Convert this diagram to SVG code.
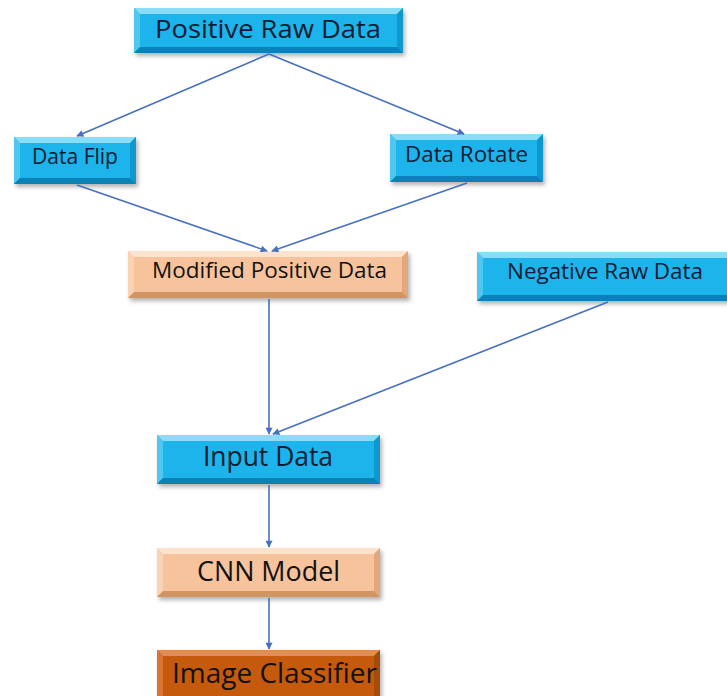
<svg xmlns="http://www.w3.org/2000/svg" width="727" height="696" viewBox="0 0 727 696">
<style>
.blue .m{fill:#1DB4EA}.blue .t{fill:#8ADDF7}.blue .l{fill:#4FC7EF}.blue .r{fill:#0F98CE}.blue .b{fill:#0A82B4}
.peach .m{fill:#F7C39C}.peach .t{fill:#FCE3CE}.peach .l{fill:#FAD3B5}.peach .r{fill:#E2A77C}.peach .b{fill:#D19564}
.dark .m{fill:#C55A11}.dark .t{fill:#E58C4E}.dark .l{fill:#D87530}.dark .r{fill:#A64B0C}.dark .b{fill:#8F400A}
.box{filter:url(#sh)}
text{font-family:"Open Sans","Liberation Sans",sans-serif;text-anchor:start}
.blue text{fill:#0E1B33}.peach text,.dark text{fill:#111}
.con line{stroke:#4770C0;stroke-width:1.6;fill:none;marker-end:url(#ah)}
</style>
<defs>
<filter id="sh" x="-10%" y="-20%" width="130%" height="160%"><feDropShadow dx="2" dy="3" stdDeviation="2" flood-color="#000" flood-opacity="0.3"/></filter>
<marker id="ah" viewBox="0 0 10 10" refX="9" refY="5" markerWidth="9" markerHeight="7" markerUnits="userSpaceOnUse" orient="auto"><path d="M0,0 L10,5 L0,10 z" fill="#4770C0"/></marker>
</defs>
<rect width="727" height="696" fill="#fff"/>

<g id="positive-raw" class="blue">
<g class="box"><rect class="m" x="134" y="8" width="269" height="45"/></g>
<polygon class="t" points="134,8 403,8 397,14 140,14"/>
<polygon class="l" points="134,8 140,14 140,47 134,53"/>
<polygon class="r" points="403,8 403,53 397,47 397,14"/>
<polygon class="b" points="134,53 140,47 397,47 403,53"/>
<text x="155" y="38" font-size="26" textLength="226" lengthAdjust="spacingAndGlyphs">Positive Raw Data</text>
</g>

<g id="data-flip" class="blue">
<g class="box"><rect class="m" x="14" y="137" width="122" height="47"/></g>
<polygon class="t" points="14,137 136,137 130,143 20,143"/>
<polygon class="l" points="14,137 20,143 20,178 14,184"/>
<polygon class="r" points="136,137 136,184 130,178 130,143"/>
<polygon class="b" points="14,184 20,178 130,178 136,184"/>
<text x="32" y="164" font-size="22" textLength="86" lengthAdjust="spacingAndGlyphs">Data Flip</text>
</g>

<g id="data-rotate" class="blue">
<g class="box"><rect class="m" x="390" y="134" width="153" height="48"/></g>
<polygon class="t" points="390,134 543,134 537,140 396,140"/>
<polygon class="l" points="390,134 396,140 396,176 390,182"/>
<polygon class="r" points="543,134 543,182 537,176 537,140"/>
<polygon class="b" points="390,182 396,176 537,176 543,182"/>
<text x="405" y="162" font-size="22" textLength="123" lengthAdjust="spacingAndGlyphs">Data Rotate</text>
</g>

<g id="modified-positive" class="peach">
<g class="box"><rect class="m" x="128" y="251" width="280" height="47"/></g>
<polygon class="t" points="128,251 408,251 402,257 134,257"/>
<polygon class="l" points="128,251 134,257 134,292 128,298"/>
<polygon class="r" points="408,251 408,298 402,292 402,257"/>
<polygon class="b" points="128,298 134,292 402,292 408,298"/>
<text x="152" y="278" font-size="22" textLength="235" lengthAdjust="spacingAndGlyphs">Modified Positive Data</text>
</g>

<g id="negative-raw" class="blue">
<g class="box"><rect class="m" x="477" y="252" width="258" height="49"/></g>
<polygon class="t" points="477,252 735,252 729,258 483,258"/>
<polygon class="l" points="477,252 483,258 483,295 477,301"/>
<polygon class="b" points="477,301 483,295 729,295 735,301"/>
<text x="507" y="279" font-size="21" textLength="196" lengthAdjust="spacingAndGlyphs">Negative Raw Data</text>
</g>

<g id="input-data" class="blue">
<g class="box"><rect class="m" x="157" y="435" width="223" height="49"/></g>
<polygon class="t" points="157,435 380,435 374,441 163,441"/>
<polygon class="l" points="157,435 163,441 163,478 157,484"/>
<polygon class="r" points="380,435 380,484 374,478 374,441"/>
<polygon class="b" points="157,484 163,478 374,478 380,484"/>
<text x="203" y="466" font-size="28" textLength="130" lengthAdjust="spacingAndGlyphs">Input Data</text>
</g>

<g id="cnn-model" class="peach">
<g class="box"><rect class="m" x="157" y="548" width="223" height="49"/></g>
<polygon class="t" points="157,548 380,548 374,554 163,554"/>
<polygon class="l" points="157,548 163,554 163,591 157,597"/>
<polygon class="r" points="380,548 380,597 374,591 374,554"/>
<polygon class="b" points="157,597 163,591 374,591 380,597"/>
<text x="197" y="581" font-size="27" textLength="143" lengthAdjust="spacingAndGlyphs">CNN Model</text>
</g>

<g id="image-classifier" class="dark">
<g class="box"><rect class="m" x="157" y="650" width="223" height="52"/></g>
<polygon class="t" points="157,650 380,650 374,656 163,656"/>
<polygon class="l" points="157,650 163,656 163,702 157,702"/>
<polygon class="r" points="380,650 380,702 374,702 374,656"/>
<text x="172" y="683" font-size="28" textLength="205" lengthAdjust="spacingAndGlyphs">Image Classifier</text>
</g>

<g id="connectors" class="con">
<line x1="269" y1="54" x2="77" y2="136"/>
<line x1="269" y1="54" x2="464" y2="134"/>
<line x1="77" y1="185" x2="267" y2="251"/>
<line x1="467" y1="183" x2="272" y2="251"/>
<line x1="269" y1="299" x2="269" y2="434"/>
<line x1="608" y1="302" x2="273" y2="434"/>
<line x1="269" y1="485" x2="269" y2="547"/>
<line x1="269" y1="598" x2="269" y2="649"/>
</g>
</svg>
